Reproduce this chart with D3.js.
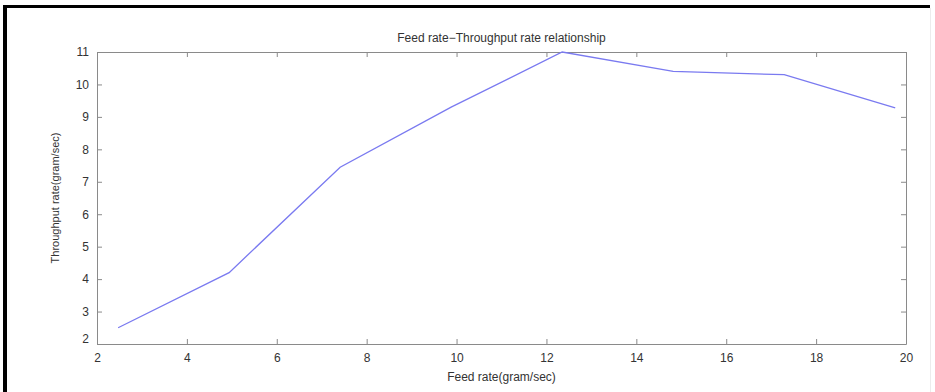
<!DOCTYPE html>
<html>
<head>
<meta charset="utf-8">
<script src="https://cdn.jsdelivr.net/npm/d3@7"></script>
<style>
  body { margin:0; background:#fff; }
  text { font-family: "Liberation Sans", Arial, sans-serif; fill:#333; }
</style>
</head>
<body>
<div id="chart"></div>
<script>
// data
var feedRate = [2.47, 4.94, 7.41, 9.88, 12.35, 14.82, 17.29, 19.76];
var throughput = [2.5, 4.2, 7.45, 9.3, 11.0, 10.4, 10.3, 9.28];
var xTicks = [2, 4, 6, 8, 10, 12, 14, 16, 18, 20];
var yTicks = [2, 3, 4, 5, 6, 7, 8, 9, 10, 11];

var W = 935, H = 392;
var margin = { left:97, right:29, top:52, bottom:48 };
var w = W - margin.left - margin.right;
var h = H - margin.top - margin.bottom;

var svg = d3.select("#chart").append("svg")
    .attr("width", W)
    .attr("height", H);

// black frame of the screenshot (top + left)
svg.append("rect").attr("x",3).attr("y",5).attr("width",927).attr("height",3).attr("fill","#000");
svg.append("rect").attr("x",3).attr("y",5).attr("width",4).attr("height",H-5).attr("fill","#000");
// faint edge on the right
svg.append("line").attr("x1",930.5).attr("x2",930.5).attr("y1",8).attr("y2",H)
    .attr("stroke","#ececec");

var g = svg.append("g")
    .attr("transform", "translate(" + margin.left + "," + margin.top + ")");

var xScale = d3.scaleLinear().domain([2, 20]).range([0, w]);
var yScale = d3.scaleLinear().domain([2, 11]).range([h, 0]);

// matlab style axes: ticks pointing inwards on all four sides
var axisColor = "#8a8a8a";
function styleAxis(sel) {
    sel.select(".domain").attr("stroke", axisColor);
    sel.selectAll(".tick line").attr("stroke", axisColor);
    sel.selectAll(".tick text").attr("font-size", 12).attr("fill", "#444");
}

var xAxis = g.append("g")
    .attr("transform", "translate(0," + h + ")")
    .call(d3.axisBottom(xScale).tickValues(xTicks).tickSizeInner(-5).tickSizeOuter(0).tickPadding(9));
styleAxis(xAxis);

var xTop = g.append("g")
    .call(d3.axisTop(xScale).tickValues(xTicks).tickSizeInner(-5).tickSizeOuter(0).tickFormat(""));
styleAxis(xTop);

var yAxis = g.append("g")
    .call(d3.axisLeft(yScale).tickValues(yTicks).tickSizeInner(-5).tickSizeOuter(0).tickPadding(8));
styleAxis(yAxis);
// matlab puts the bottom "2" a little higher
yAxis.selectAll(".tick text").filter(function(d){ return d === 2; }).attr("dy", "-0.1em");

var yRight = g.append("g")
    .attr("transform", "translate(" + w + ",0)")
    .call(d3.axisRight(yScale).tickValues(yTicks).tickSizeInner(-5).tickSizeOuter(0).tickFormat(""));
styleAxis(yRight);

// the line
var pts = feedRate.map(function(d, i) { return [d, throughput[i]]; });
var line = d3.line()
    .x(function(d) { return xScale(d[0]); })
    .y(function(d) { return yScale(d[1]); });

g.append("path")
    .datum(pts)
    .attr("fill", "none")
    .attr("stroke", "#7a7af0")
    .attr("stroke-width", 1.3)
    .attr("d", line);

// title
g.append("text")
    .attr("x", w / 2)
    .attr("y", -10)
    .attr("text-anchor", "middle")
    .attr("font-size", 12)
    .text("Feed rate\u2212Throughput rate relationship");

// x label
g.append("text")
    .attr("x", w / 2)
    .attr("y", h + 37)
    .attr("text-anchor", "middle")
    .attr("font-size", 12)
    .text("Feed rate(gram/sec)");

// y label
g.append("text")
    .attr("x", -h / 2)
    .attr("y", -38)
    .attr("text-anchor", "middle")
    .attr("font-size", 11)
    .attr("transform", "rotate(-90)")
    .text("Throughput rate(gram/sec)");
</script>
</body>
</html>
